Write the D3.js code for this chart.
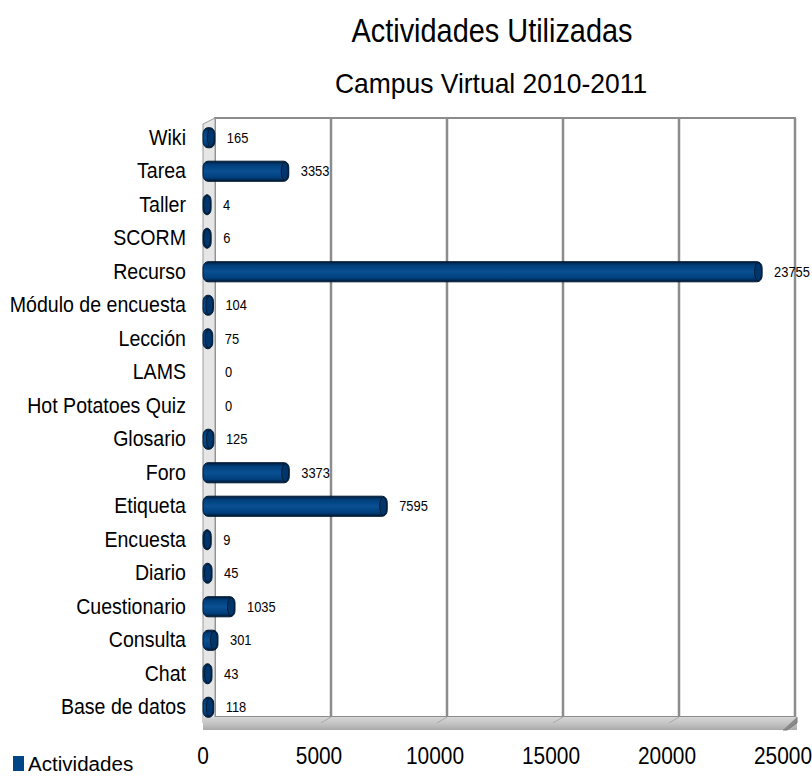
<!DOCTYPE html>
<html>
<head>
<meta charset="utf-8">
<title>Actividades Utilizadas</title>
<script src="https://cdn.jsdelivr.net/npm/d3@7"></script>
<style>
  body { margin: 0; background: #fff; }
  text { font-family: "Liberation Sans", Arial, sans-serif; fill: #000; }
</style>
</head>
<body>
<div id="chart"></div>
<script>
const categories = ["Wiki", "Tarea", "Taller", "SCORM", "Recurso", "Módulo de encuesta", "Lección",
  "LAMS", "Hot Potatoes Quiz", "Glosario", "Foro", "Etiqueta", "Encuesta", "Diario",
  "Cuestionario", "Consulta", "Chat", "Base de datos"];
const values = [165, 3353, 4, 6, 23755, 104, 75, 0, 0, 125, 3373, 7595, 9, 45, 1035, 301, 43, 118];
const xTicks = [0, 5000, 10000, 15000, 20000, 25000];
const seriesName = "Actividades";

const width = 812, height = 776;
const depth = {dx: 12, dy: -6};
const front = {left: 203, right: 783, top: 124, bottom: 723};

const svg = d3.select("#chart").append("svg")
  .attr("width", width).attr("height", height);

const defs = svg.append("defs");
const grad = defs.append("linearGradient").attr("id", "barGrad")
  .attr("x1", 0).attr("y1", 0).attr("x2", 0).attr("y2", 1);
[[0, "#001c3a"], [0.18, "#003f7c"], [0.5, "#0a5092"], [0.82, "#003f7c"], [1, "#001830"]]
  .forEach(([o, c]) => grad.append("stop").attr("offset", o).attr("stop-color", c));
const floorGrad = defs.append("linearGradient").attr("id", "floorGrad")
  .attr("x1", 0).attr("y1", 0).attr("x2", 0).attr("y2", 1);
[[0, "#d6d6d6"], [0.5, "#c4c4c4"], [1, "#aaaaaa"]]
  .forEach(([o, c]) => floorGrad.append("stop").attr("offset", o).attr("stop-color", c));

// scales: front plane for bars, back plane for the wall grid
const x = d3.scaleLinear().domain([0, 25000]).range([front.left, front.right]);
const xBack = d3.scaleLinear().domain([0, 25000]).range([front.left + depth.dx, front.right + depth.dx]);
const y = d3.scaleBand().domain(categories).range([front.top - 3, front.bottom + 1]).paddingInner(0.4).paddingOuter(0.2);

// narrow-looking text helper
function label(g, str, px, py, size, sx, anchor) {
  return g.append("text")
    .attr("transform", `translate(${px},${py}) scale(${sx},1)`)
    .attr("text-anchor", anchor || "start")
    .attr("font-size", size)
    .text(str);
}

// titles
label(svg, "Actividades Utilizadas", 492, 42, 34, 0.85, "middle");
label(svg, "Campus Virtual 2010-2011", 491, 93, 27, 0.98, "middle");

// back wall
const wallTop = front.top + depth.dy, wallBottom = front.bottom + depth.dy;
svg.append("rect")
  .attr("x", xBack(0)).attr("y", wallTop)
  .attr("width", xBack(25000) - xBack(0)).attr("height", wallBottom - wallTop)
  .attr("fill", "#fff").attr("stroke", "#8c8c8c").attr("stroke-width", 2);

// left side wall
svg.append("path")
  .attr("d", `M${x(0)},${front.top} L${xBack(0)},${wallTop} L${xBack(0)},${wallBottom} L${x(0)},${front.bottom} Z`)
  .attr("fill", "#e6e6e6").attr("stroke", "#9a9a9a").attr("stroke-width", 1);

// grid on the back wall
svg.append("g").selectAll("line").data(xTicks.slice(1)).join("line")
  .attr("x1", d => xBack(d)).attr("x2", d => xBack(d))
  .attr("y1", wallTop).attr("y2", wallBottom)
  .attr("stroke", "#8c8c8c").attr("stroke-width", 2.5);

// floor slab
const slab = 13;
svg.append("rect")
  .attr("x", x(0)).attr("y", wallBottom)
  .attr("width", xBack(25000) - x(0) + 2).attr("height", slab)
  .attr("fill", "url(#floorGrad)");
svg.append("path")
  .attr("d", `M${xBack(25000) + 2},${wallBottom} L${xBack(25000) + 2},${wallBottom + 6} L${xBack(25000) - 8},${wallBottom + slab} L${xBack(25000) - 12},${wallBottom + slab}`)
  .attr("fill", "#8a8a8a").attr("stroke", "#7a7a7a");
svg.append("g").selectAll("line").data(xTicks.slice(1, -1)).join("line")
  .attr("x1", d => xBack(d)).attr("x2", d => x(d) + 2)
  .attr("y1", wallBottom).attr("y2", wallBottom + 6)
  .attr("stroke", "#a8a8a8").attr("stroke-width", 1);

// bars
const capW = 8;
const bars = svg.append("g");
categories.forEach((c, i) => {
  const v = values[i];
  const y0 = y(c), h = y.bandwidth();
  const x1 = x(v) + capW;
  if (v > 0) {
    bars.append("rect")
      .attr("x", x(0)).attr("y", y0).attr("width", x1 - x(0)).attr("height", h)
      .attr("rx", 5).attr("ry", 6)
      .attr("fill", "url(#barGrad)").attr("stroke", "#001a33").attr("stroke-width", 1);
    bars.append("ellipse")
      .attr("cx", x1 - 4).attr("cy", y0 + h / 2).attr("rx", 3.5).attr("ry", h / 2 - 1)
      .attr("fill", "#00366b").attr("stroke", "#001a33").attr("stroke-width", 1);
  }
  label(svg, d3.format("d")(v), (v > 0 ? x1 : x(0) + 10) + 12, y0 + h / 2 + 5, 15, 0.86);
});

// category labels
categories.forEach(c => label(svg, c, 186, y(c) + y.bandwidth() / 2 + 7, 22, 0.89, "end"));

// x tick labels
xTicks.forEach(t => label(svg, t, x(t), 764, 24, 0.87, "middle"));

// legend
svg.append("rect").attr("x", 13).attr("y", 756).attr("width", 11).attr("height", 15).attr("fill", "#004586");
label(svg, seriesName, 28, 771, 21, 0.98);
</script>
</body>
</html>
